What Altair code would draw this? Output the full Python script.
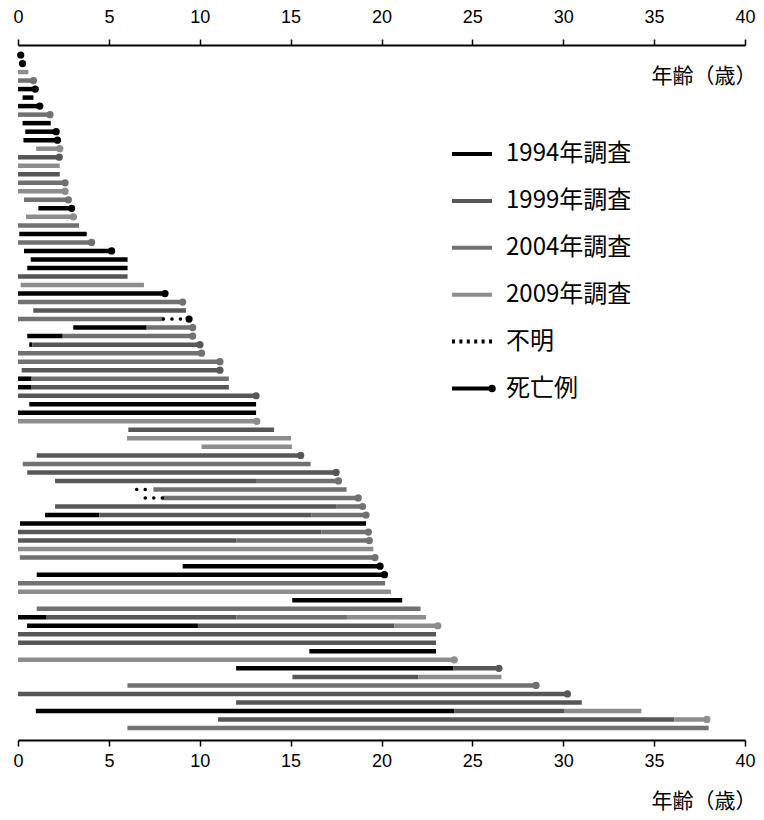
import altair as alt
import pandas as pd

# ---------------- data ----------------
# one entry per coloured segment: patient row (top=1), start age, end age, survey
seg_row = [1, 2, 3, 4, 5, 6, 7, 8, 9, 10,
           11, 12, 13, 14, 15, 16, 17, 18, 19, 20,
           21, 22, 23, 24, 25, 26, 27, 28, 29, 30,
           31, 32, 33, 33, 34, 34, 35, 35, 36, 37,
           38, 39, 39, 40, 40, 41, 42, 43, 44, 45,
           46, 47, 48, 49, 50, 51, 51, 52, 53, 54,
           54, 55, 55, 55, 56, 57, 57, 58, 58, 59,
           60, 61, 62, 63, 64, 65, 66, 67, 67, 67,
           67, 68, 68, 68, 69, 70, 71, 72, 73, 73,
           74, 74, 75, 76, 77, 78, 78, 78, 79, 79,
           80]
seg_start = [0.08, 0.10, 0.0, 0.0, 0.0, 0.25, 0.0, 0.0, 0.25, 0.40,
             0.30, 1.00, 0.0, 0.0, 0.0, 0.0, 0.0, 0.33, 1.12, 0.44,
             0.0, 0.07, 0.0, 0.33, 0.70, 0.51, 0.0, 0.15, 0.0, 0.0,
             0.84, 0.0, 3.04, 7.08, 0.51, 2.46, 0.62, 0.78, 0.0, 0.0,
             0.20, 0.0, 0.75, 0.0, 0.75, 0.0, 0.62, 0.0, 0.0, 6.07,
             6.00, 10.10, 1.03, 0.26, 0.51, 2.04, 13.14, 7.45, 7.94, 2.04,
             17.50, 1.49, 4.47, 16.16, 0.11, 0.0, 16.70, 0.0, 12.03, 0.0,
             0.10, 9.06, 1.03, 0.0, 0.0, 15.09, 1.03, 0.0, 1.58, 12.03,
             18.10, 0.50, 9.90, 20.70, 0.0, 0.0, 16.03, 0.0, 12.00, 23.94,
             15.10, 22.03, 6.02, 0.0, 12.00, 0.98, 24.00, 30.04, 11.00, 36.10,
             6.02]
seg_end = [0.15, 0.25, 0.57, 0.85, 0.95, 0.85, 1.20, 1.76, 1.80, 2.10,
           2.17, 2.30, 2.27, 2.30, 2.30, 2.59, 2.59, 2.77, 2.95, 3.05,
           3.36, 3.78, 4.05, 5.15, 6.03, 6.03, 6.03, 6.93, 8.09, 9.06,
           9.24, 8.00, 7.08, 9.61, 2.46, 9.61, 0.78, 10.01, 10.10, 11.11,
           11.11, 0.75, 11.60, 0.75, 11.60, 13.10, 13.10, 13.10, 13.14, 14.09,
           15.02, 15.07, 15.55, 16.10, 17.50, 13.14, 17.63, 18.08, 18.72, 17.50,
           18.96, 4.47, 16.16, 19.15, 19.15, 16.70, 19.28, 12.03, 19.33, 19.55,
           19.64, 19.92, 20.16, 20.20, 20.52, 21.14, 22.15, 1.58, 12.03, 18.10,
           22.45, 9.90, 20.70, 23.10, 23.00, 23.00, 23.00, 24.00, 23.94, 26.46,
           22.03, 26.60, 28.50, 30.23, 31.02, 24.00, 30.04, 34.30, 36.10, 37.90,
           38.00]
seg_survey = [1994, 1994, 2009, 2004, 1994, 1994, 1994, 2004, 1994, 1994,
              1994, 2009, 1999, 2009, 1999, 2004, 2009, 2004, 1994, 2009,
              2004, 1994, 2004, 1994, 1994, 1994, 1999, 2009, 1994, 2004,
              1999, 2004, 1994, 2004, 1994, 2004, 1994, 1999, 2004, 2004,
              1999, 1994, 2004, 1994, 1999, 1999, 1994, 1994, 2009, 1999,
              2009, 2009, 1999, 2004, 1999, 1999, 2004, 2004, 2004, 1999,
              2004, 1994, 1999, 2004, 1994, 1999, 2004, 1999, 2004, 2009,
              2004, 1994, 1994, 2004, 2009, 1994, 2004, 1994, 1999, 2004,
              2009, 1994, 1999, 2009, 1999, 1999, 1994, 2009, 1994, 1999,
              1999, 2009, 2004, 1999, 1999, 1994, 1999, 2009, 1999, 2009,
              2004]

# unknown (dotted) periods
unk_row = [32, 52, 53]
unk_start = [8.00, 6.53, 7.00]
unk_end = [9.41, 7.45, 7.94]

# deaths: row, age at death, survey colour of the end point
death_row = [1, 2, 4, 5, 7, 8, 10, 11, 12, 13,
             16, 17, 18, 19, 20, 23, 24, 29, 30, 32,
             33, 34, 35, 36, 37, 38, 41, 44, 48, 50,
             51, 53, 54, 55, 57, 58, 60, 61, 62, 68,
             72, 73, 75, 76, 79]
death_age = [0.15, 0.25, 0.85, 0.95, 1.20, 1.76, 2.10, 2.17, 2.30, 2.27,
             2.59, 2.59, 2.77, 2.95, 3.05, 4.05, 5.15, 8.09, 9.06, 9.41,
             9.61, 9.61, 10.01, 10.10, 11.11, 11.11, 13.10, 13.14, 15.55, 17.50,
             17.63, 18.72, 18.96, 19.15, 19.28, 19.33, 19.64, 19.92, 20.16, 23.10,
             24.00, 26.46, 28.50, 30.23, 37.90]
death_survey = [1994, 1994, 2004, 1994, 1994, 2004, 1994, 1994, 2009, 1999,
                2004, 2009, 2004, 1994, 2009, 2004, 1994, 1994, 2004, 1994,
                2004, 2004, 1999, 2004, 2004, 1999, 1999, 2009, 1999, 1999,
                2004, 2004, 2004, 2004, 2004, 2004, 2004, 1994, 1994, 2009,
                2009, 1999, 2004, 1999, 2009]

legend_items = ["1994年調査", "1999年調査", "2004年調査", "2009年調査", "不明", "死亡例"]
tick_values = [0, 5, 10, 15, 20, 25, 30, 35, 40]
axis_title = "年齢（歳）"

# ---------------- styling ----------------
survey_color = {1994: "#000000", 1999: "#575757", 2004: "#717171", 2009: "#8d8d8d"}
legend_colors = ["#000000", "#575757", "#717171", "#8d8d8d", "#000000", "#000000"]
LINE = "M-1,0H1"
DOTS = ("M-1,0h0.15M-0.63,0h0.15M-0.26,0h0.15M0.11,0h0.15"
        "M0.48,0h0.15M0.85,0h0.15")
DEATH = "M-1,0H0.95M1.09,0A0.09,0.09,0,1,1,0.91,0A0.09,0.09,0,1,1,1.09,0Z"
legend_shapes = [LINE, LINE, LINE, LINE, DOTS, DEATH]

FONT = "Liberation Sans, Arial, Noto Sans CJK JP, sans-serif"
JP = "Noto Sans CJK JP, sans-serif"

seg_df = pd.DataFrame({"row": seg_row, "start": seg_start, "end": seg_end,
                       "col": [survey_color[s] for s in seg_survey]})
unk_df = pd.DataFrame({"row": unk_row, "start": unk_start, "end": unk_end})
death_df = pd.DataFrame({"row": death_row, "age": death_age,
                         "col": [survey_color[s] for s in death_survey]})
leg_df = pd.DataFrame({"item": legend_items, "age": [1.0] * 6, "row": [-20.0] * 6})

x_scale = alt.Scale(domain=[0, 40], nice=False, zero=False)
y_scale = alt.Scale(domain=[-0.174, 81.41], reverse=True, nice=False, zero=False)

axis_common = dict(
    values=tick_values, grid=False, domainColor="black", domainWidth=2,
    tickColor="black", tickWidth=1.5, tickSize=6, labelFont=FONT,
    labelFontSize=18, labelColor="black", labelFlush=False,
    titleFont=JP, titleFontSize=21, titleFontWeight="normal",
    titleColor="black", titleAngle=0, titleAlign="right",
    titleBaseline="middle", titleX=738, title=axis_title,
)
bottom_axis = alt.Axis(orient="bottom", labelPadding=6, titleY=61, **axis_common)
top_axis = alt.Axis(orient="top", labelPadding=12.5, titleY=31, **axis_common)

segs = alt.Chart(seg_df).mark_rule(strokeWidth=4.5, strokeCap="butt").encode(
    x=alt.X("start:Q", scale=x_scale, axis=bottom_axis),
    x2="end:Q",
    y=alt.Y("row:Q", scale=y_scale, axis=None),
    color=alt.Color("col:N", scale=None),
)

unk = alt.Chart(unk_df).mark_rule(
    strokeWidth=3.5, strokeCap="round", strokeDash=[0.1, 8.4], color="black"
).encode(
    x=alt.X("start:Q", scale=x_scale, axis=top_axis),
    x2="end:Q",
    y=alt.Y("row:Q", scale=y_scale, axis=None),
)

deaths = alt.Chart(death_df).mark_circle(size=52, opacity=1).encode(
    x=alt.X("age:Q", scale=x_scale, axis=None),
    y=alt.Y("row:Q", scale=y_scale, axis=None),
    color=alt.Color("col:N", scale=None),
)

leg = alt.Legend(
    title=None, orient="none", legendX=432, legendY=87, padding=0,
    rowPadding=12.9, labelOffset=12, labelFont=JP, labelFontSize=24,
    labelColor="black", symbolSize=1600, symbolStrokeWidth=4,
)
legend_layer = alt.Chart(leg_df).mark_point(
    filled=False, strokeWidth=4, clip=True
).encode(
    x=alt.X("age:Q", scale=x_scale, axis=None),
    y=alt.Y("row:Q", scale=y_scale, axis=None),
    color=alt.Color("item:N", scale=alt.Scale(domain=legend_items, range=legend_colors), legend=leg),
    shape=alt.Shape("item:N", scale=alt.Scale(domain=legend_items, range=legend_shapes), legend=leg),
)

chart = alt.layer(segs, unk, deaths, legend_layer).resolve_axis(
    x="independent"
).properties(
    width=727, height=695,
    autosize=alt.AutoSizeParams(type="none"),
    padding={"left": 10, "top": 37, "right": 11, "bottom": 72},
    background="white",
).configure_view(stroke=None)

chart.save("out.html", embed_options={"renderer": "svg", "actions": False})
